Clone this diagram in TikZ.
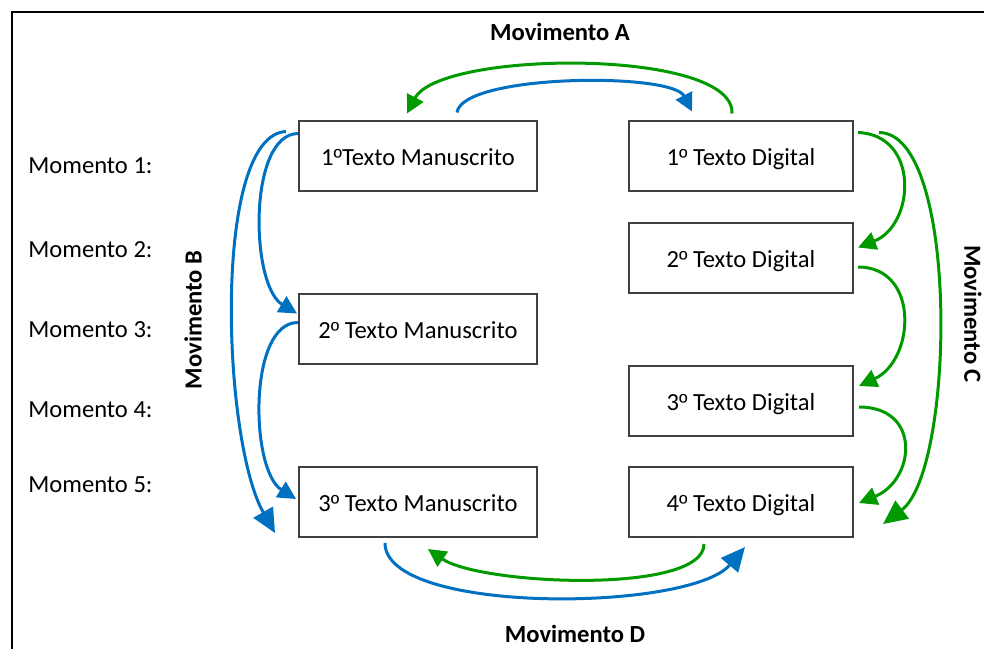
\documentclass[tikz,border=0pt]{standalone}
\usepackage{fontspec}
\setmainfont{Carlito}
\newfontfamily\ordfont{Liberation Sans}
\usepackage{tikz}
\usetikzlibrary{arrows.meta,calc}
\definecolor{azulSeta}{HTML}{0070C0}
\definecolor{verdeSeta}{HTML}{009A00}
\definecolor{bordaCaixa}{HTML}{404040}
\newcommand{\ordo}{{\ordfont\fontsize{11.5}{14}\selectfont º}}

\begin{document}
\begin{tikzpicture}[x=0.5pt,y=-0.5pt,
  font=\fontsize{12.3}{14.8}\selectfont,
  caixa/.style={draw=bordaCaixa,line width=1pt,minimum width=119pt,minimum height=35pt,
    inner sep=0pt,text height=12pt,text depth=2.5pt},
  rotulo/.style={anchor=west,inner sep=0pt},
  movimento/.style={font=\fontsize{12.3}{14.8}\selectfont\bfseries,inner sep=0pt},
  setaAzul/.style={azulSeta,line width=1.5pt,-{Triangle[length=9pt,width=9pt]}},
  setaVerde/.style={verdeSeta,line width=1.5pt,-{Triangle[length=9pt,width=9pt]}},
  grande/.style={-{Triangle[length=12pt,width=11pt]}}]
\useasboundingbox (0,0) rectangle (984,649);
\draw[line width=1pt] (984,12)--(12,12)--(12,649);
% caixas
\node[caixa] (m1) at (418,155.5) {1\ordo Texto Manuscrito};
\node[caixa] (m2) at (418,328.5) {2\ordo{} Texto Manuscrito};
\node[caixa] (m3) at (418,502) {3\ordo{} Texto Manuscrito};
\node[caixa,minimum width=112pt] (d1) at (741,155.5) {1\ordo{} Texto Digital};
\node[caixa,minimum width=112pt] (d2) at (741,257.5) {2\ordo{} Texto Digital};
\node[caixa,minimum width=112pt] (d3) at (741,400.5) {3\ordo{} Texto Digital};
\node[caixa,minimum width=112pt] (d4) at (741,502) {4\ordo{} Texto Digital};
% momentos
\foreach \n/\y in {1/166,2/250,3/330,4/410,5/485}
  \node[rotulo] (mo\n) at (28,\y) {Momento \n:};
% movimentos
\node[movimento] (movA) at (560,32) {Movimento A};
\node[movimento,rotate=90] (movB) at (193,320) {Movimento B};
\node[movimento,rotate=-90] (movC) at (973,314) {Movimento C};
\node[movimento] (movD) at (575,634) {Movimento D};
% A
\draw[setaAzul] ($(m1.north)+(39,-7)$) .. controls (462,74) and (672,72) .. ($(d1.north)+(-49,-8)$);
\draw[setaVerde] ($(d1.north)+(-9,-6)$) .. controls (735,48) and (440,50) .. ($(m1.north)+(-11,-6)$);
% B
\draw[setaAzul,grande] ($(m1.north west)+(-12,12)$) .. controls (212,135) and (222,440) .. ($(m3.south west)+(-23,-5)$);
\draw[setaAzul] ($(m1.north west)+(0,14)$) .. controls (248,134) and (250,285) .. ($(m2.west)+(-1,-15)$);
\draw[setaAzul] ($(m2.west)+(0,-6)$) .. controls (248,322) and (250,470) .. ($(m3.west)+(-2,-3)$);
% C
\draw[setaVerde] ($(d1.north east)+(4,13)$) .. controls (920,135) and (915,225) .. ($(d2.east)+(4,-10)$);
\draw[setaVerde] ($(d2.east)+(4,9.5)$) .. controls (920,267) and (915,360) .. ($(d3.east)+(5,-14.5)$);
\draw[setaVerde] ($(d3.east)+(5,6.5)$) .. controls (922,407) and (915,480) .. ($(d4.east)+(5,1)$);
\draw[setaVerde,grande] ($(d1.north east)+(25,13)$) .. controls (960,133) and (955,470) .. ($(d4.south east)+(29,-14)$);
% D
\draw[setaVerde] ($(d4.south)+(-37,6)$) .. controls (704,595) and (480,585) .. ($(m3.south)+(10,11)$);
\draw[setaAzul,grande] ($(m3.south)+(-33,5)$) .. controls (385,615) and (690,612) .. ($(d4.south)+(4,9)$);
\end{tikzpicture}
\end{document}
